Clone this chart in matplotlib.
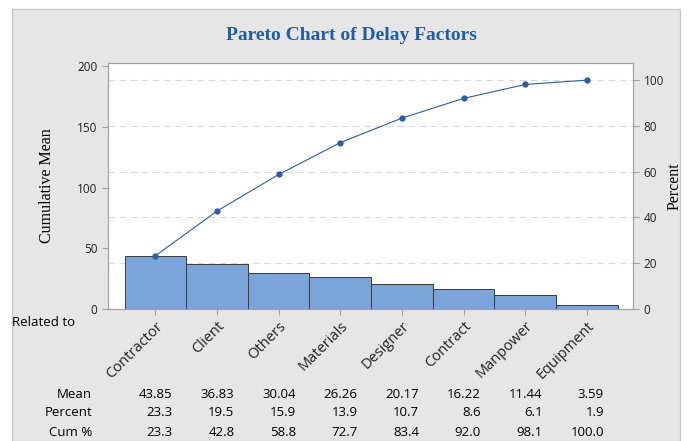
import numpy as np
import matplotlib.pyplot as plt
from matplotlib.patches import Rectangle

categories = ['Contractor', 'Client', 'Others', 'Materials', 'Designer', 'Contract', 'Manpower', 'Equipment']
mean = [43.85, 36.83, 30.04, 26.26, 20.17, 16.22, 11.44, 3.59]
percent = [23.3, 19.5, 15.9, 13.9, 10.7, 8.6, 6.1, 1.9]
cum_pct = [23.3, 42.8, 58.8, 72.7, 83.4, 92.0, 98.1, 100.0]

plt.rcParams.update({
    'font.family': ['Open Sans', 'DejaVu Sans'],
    'font.size': 8.5,
})

fig = plt.figure(figsize=(6.9, 4.41), dpi=100, facecolor='white')
fig.patches.append(Rectangle((12 / 690, 0), 668 / 690, 1 - 9 / 441, transform=fig.transFigure,
                             facecolor='#E6E6E6', edgecolor='#C8C8C8', linewidth=1, zorder=-10))

ax = fig.add_axes([108 / 690, 1 - 309 / 441, 525 / 690, 246 / 441])
ax2 = ax.twinx()

x = np.arange(len(categories))
total = sum(mean)
cum_mean = np.cumsum(mean)

ax.bar(x, mean, width=1.0, color='#7BA4D9', edgecolor='#3A3A3A', linewidth=0.7, zorder=2)
ax.plot(x, cum_mean, color='#2E5C9E', linewidth=0.8, marker='o', markersize=3.5, zorder=3)

top = 202.5
ax.set_ylim(0, top)
ax.set_xlim(-0.77, 7.75)
ax2.set_ylim(0, top / total * 100)

ax.set_yticks([0, 50, 100, 150, 200])
ax2.set_yticks([0, 20, 40, 60, 80, 100])
ax2.grid(axis='y', linestyle=(0, (6, 4)), color='#D9D9D9', linewidth=0.8)
ax2.set_zorder(1)
ax.set_zorder(2)
ax.patch.set_visible(False)
ax2.patch.set_visible(True)
ax2.patch.set_facecolor('white')

ax.set_xticks(x)
ax.set_xticklabels(categories, rotation=45, ha='right', rotation_mode='anchor', fontsize=10.5)

for a in (ax, ax2):
    for s in a.spines.values():
        s.set_color('#A0A0A0')
    a.tick_params(colors='#A0A0A0', labelcolor='#222222', length=4, width=0.8)
ax.tick_params(axis='x', pad=3)

serif = ['Liberation Serif', 'DejaVu Serif']
ax.set_ylabel('Cumulative Mean', family=serif, fontsize=11.5, labelpad=16)
ax2.set_ylabel('Percent', family=serif, fontsize=11.5, labelpad=2)

fig.text(351 / 690, 1 - 36 / 441, 'Pareto Chart of Delay Factors', family=serif, fontsize=14,
         fontweight='bold', color='#1F5DAA', ha='center', va='center')

fig.text(12 / 690, 1 - 322 / 441, 'Related to', fontsize=9.5, ha='left', va='center')

rows = [('Mean', [f'{v:.2f}' for v in mean], 395),
        ('Percent', [f'{v:.1f}' for v in percent], 413),
        ('Cum %', [f'{v:.1f}' for v in cum_pct], 432)]
for label, vals, ypix in rows:
    yf = 1 - ypix / 441
    fig.text(92 / 690, yf, label, fontsize=9.5, ha='right', va='center')
    for i, v in enumerate(vals):
        xf = ax.transData.transform((i + 0.28, 0))[0] / fig.bbox.width
        fig.text(xf, yf, v, fontsize=9.5, ha='right', va='center')

fig.savefig('out.png', dpi=100, facecolor='white')
